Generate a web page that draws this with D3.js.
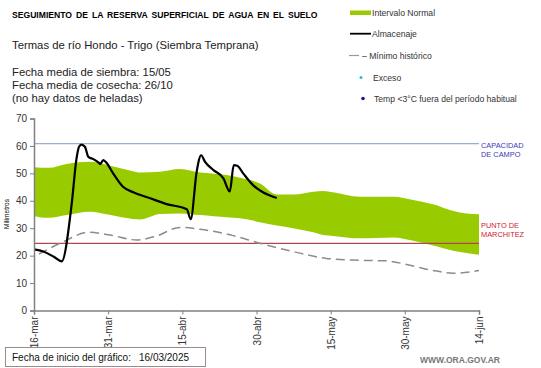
<!DOCTYPE html>
<html>
<head>
<meta charset="UTF-8">
<script src="https://d3js.org/d3.v7.min.js"></script>
<style>
  body { margin: 0; background: #fff; }
  svg text { font-family: "Liberation Sans", Arial, sans-serif; }
  .axis path, .axis line { stroke: #808080; }
  .axis text { font-size: 10px; fill: #333; }
</style>
</head>
<body>
<div id="chart"></div>
<script>
// days counted from the start date (16-mar)
var tickDays = [0, 15, 30, 45, 60, 75, 90];
var tickLabels = ["16-mar", "31-mar", "15-abr", "30-abr", "15-may", "30-may", "14-jun"];
var yTicks = [0, 10, 20, 30, 40, 50, 60, 70];

// Intervalo normal (upper / lower limits)
var bandDays  = [0, 3, 6.6, 11.3, 15, 20, 21.4, 25.5, 29.5, 33.6, 36.3, 39, 41.7, 45.7, 49.1, 52.4, 56.5, 58.5, 60.5, 65.9, 72.7, 76.7, 80.7, 84.8, 87.5, 90];
var bandHigh  = [52.2, 52, 53.4, 54.2, 53, 50.8, 50.3, 50.6, 51.6, 50.3, 49.9, 49.4, 48.4, 46.3, 42.3, 42.3, 43.3, 43.6, 43.1, 41.5, 41.5, 40.3, 38.7, 36.3, 35.4, 35.1];
var bandLow   = [34.4, 33.8, 34.8, 36, 35, 33.4, 33.2, 35.2, 35.4, 34.8, 34.4, 34, 33.6, 32.2, 31, 30, 28.5, 27.5, 27.2, 26.3, 26.6, 25.4, 23.7, 21.8, 21, 20.3];

// Minimo historico
var minDays = [1, 6, 11, 15.4, 20.8, 24.8, 29.5, 33.6, 40.3, 45.7, 52.4, 59.1, 65.9, 71.2, 76.7, 80.7, 84.8, 90];
var minVals = [20.6, 25.1, 28.5, 27.5, 25.7, 27.2, 30.3, 29.6, 27.3, 24.5, 21.5, 19, 18.3, 18.1, 16.2, 14.6, 13.6, 14.6];

// Almacenaje
var almDays = [0, 1.9, 4, 5.6, 7.6, 8.6, 9.1, 9.6, 10.3, 11, 12, 13, 13.4, 14, 14.5, 16, 18, 20.1, 23.5, 26.8, 30.9, 31.7, 32.9, 33.8, 34.6, 36.3, 38.3, 39.6, 40.4, 41.1, 42.3, 44.3, 46.3, 49.1];
var almVals = [22.3, 21.5, 19.6, 17.9, 38.5, 55.4, 59.7, 60.5, 59.7, 56, 55.2, 54, 53.4, 54.8, 54.2, 50, 45.1, 43.1, 40.9, 38.8, 36.9, 33.3, 50.6, 56.6, 54.2, 51.2, 48.2, 43.4, 53, 52.8, 50, 45.7, 43.1, 41];

var capacidad = 60.8;
var marchitez = 24.5;

var W = 541, H = 368;
var x0 = 34, x1 = 479, yBot = 310.5, yTop = 118.5;

var svg = d3.select("#chart").append("svg")
    .attr("width", W)
    .attr("height", H);

var x = d3.scaleLinear().domain([0, 90]).range([x0, x1]);
var y = d3.scaleLinear().domain([0, 70]).range([yBot, yTop]);

// band
var band = bandDays.map(function(d, i) { return {d: d, hi: bandHigh[i], lo: bandLow[i]}; });
svg.append("path")
    .attr("d", d3.area()
        .x(function(d) { return x(d.d); })
        .y0(function(d) { return y(d.lo); })
        .y1(function(d) { return y(d.hi); })
        .curve(d3.curveMonotoneX)(band))
    .attr("fill", "#99cc00");

// reference lines
svg.append("line")
    .attr("x1", x0).attr("x2", x1)
    .attr("y1", y(capacidad)).attr("y2", y(capacidad))
    .attr("stroke", "#8096c4").attr("stroke-width", 1);
svg.append("line")
    .attr("x1", x0).attr("x2", x1)
    .attr("y1", y(marchitez)).attr("y2", y(marchitez))
    .attr("stroke", "#b0474a").attr("stroke-width", 1.2);

// minimo historico
var minData = minDays.map(function(d, i) { return {d: d, v: minVals[i]}; });
svg.append("path")
    .attr("d", d3.line()
        .x(function(d) { return x(d.d); })
        .y(function(d) { return y(d.v); })
        .curve(d3.curveMonotoneX)(minData))
    .attr("fill", "none")
    .attr("stroke", "#8c8c8c")
    .attr("stroke-width", 1.5)
    .attr("stroke-dasharray", "9,5");

// almacenaje
var almData = almDays.map(function(d, i) { return {d: d, v: almVals[i]}; });
svg.append("path")
    .attr("d", d3.line()
        .x(function(d) { return x(d.d); })
        .y(function(d) { return y(d.v); })
        .curve(d3.curveMonotoneX)(almData))
    .attr("fill", "none")
    .attr("stroke", "#000")
    .attr("stroke-width", 2.2)
    .attr("stroke-linejoin", "round");

// axes
var yAxis = svg.append("g")
    .attr("class", "axis")
    .attr("transform", "translate(" + x0 + ",0)")
    .call(d3.axisLeft(y).tickValues(yTicks).tickSize(4).tickPadding(3));
yAxis.select(".domain").attr("stroke-width", 1.5);

var xAxis = svg.append("g")
    .attr("class", "axis")
    .attr("transform", "translate(0," + yBot + ")")
    .call(d3.axisBottom(x).tickValues(tickDays).tickSize(4)
        .tickFormat(function(d, i) { return tickLabels[i]; }));
xAxis.select(".domain").attr("stroke-width", 1.5);
xAxis.selectAll("text")
    .attr("transform", "rotate(-90)")
    .attr("text-anchor", "end")
    .attr("x", -6)
    .attr("y", 0)
    .attr("dy", "0.35em");

svg.append("text")
    .attr("transform", "translate(9,214) rotate(-90)")
    .attr("text-anchor", "middle")
    .attr("font-size", 6.5)
    .text("Milímetros");

// reference labels
var refLabels = [
  {t: "CAPACIDAD", y: 148, c: "#3b3bb5"},
  {t: "DE  CAMPO", y: 157, c: "#3b3bb5"},
  {t: "PUNTO  DE", y: 228, c: "#cc2233"},
  {t: "MARCHITEZ", y: 236.5, c: "#cc2233"}
];
svg.selectAll(".ref").data(refLabels).enter().append("text")
    .attr("x", 481).attr("y", function(d) { return d.y; })
    .attr("font-size", 7.4).attr("fill", function(d) { return d.c; })
    .text(function(d) { return d.t; });

// titles
svg.append("text").attr("x", 12).attr("y", 18).attr("font-size", 8.6).attr("font-weight", "bold")
    .attr("word-spacing", 1.6)
    .text("SEGUIMIENTO DE LA RESERVA SUPERFICIAL DE AGUA EN EL SUELO");
svg.append("text").attr("x", 12).attr("y", 49).attr("font-size", 11.3).attr("fill", "#222")
    .text("Termas de río Hondo - Trigo (Siembra Temprana)");
var info = ["Fecha media de siembra: 15/05", "Fecha media de cosecha: 26/10", "(no hay  datos de heladas)"];
svg.selectAll(".info").data(info).enter().append("text")
    .attr("x", 12)
    .attr("y", function(d, i) { return 76 + i * 13; })
    .attr("font-size", 11.3).attr("fill", "#222")
    .text(function(d) { return d; });

// legend
var lg = svg.append("g").attr("font-size", 8.6).attr("fill", "#333");
lg.append("rect").attr("x", 350).attr("y", 10.5).attr("width", 21).attr("height", 4.5).attr("fill", "#99cc00");
lg.append("text").attr("x", 372).attr("y", 15.8).text("Intervalo Normal");
lg.append("line").attr("x1", 350).attr("x2", 371).attr("y1", 33.7).attr("y2", 33.7).attr("stroke", "#000").attr("stroke-width", 1.8);
lg.append("text").attr("x", 372).attr("y", 37).text("Almacenaje");
lg.append("line").attr("x1", 349).attr("x2", 359).attr("y1", 55.5).attr("y2", 55.5).attr("stroke", "#999").attr("stroke-width", 1.2);
lg.append("text").attr("x", 362).attr("y", 58.8).text("– Mínimo histórico");
lg.append("circle").attr("cx", 361).attr("cy", 77.5).attr("r", 1.5).attr("fill", "#33bbcc");
lg.append("text").attr("x", 373).attr("y", 80.5).text("Exceso");
lg.append("circle").attr("cx", 363).attr("cy", 98.5).attr("r", 1.8).attr("fill", "#1a1a8c");
lg.append("text").attr("x", 374).attr("y", 101.8).text("Temp <3°C fuera del período habitual");

// footer
svg.append("rect").attr("x", 5.5).attr("y", 347.5).attr("width", 200).attr("height", 19)
    .attr("fill", "#fff").attr("stroke", "#9a8a8a");
svg.append("text").attr("x", 12).attr("y", 361).attr("font-size", 10).attr("fill", "#111")
    .text("Fecha de inicio del gráfico:");
svg.append("text").attr("x", 139).attr("y", 361).attr("font-size", 10).attr("fill", "#111")
    .text("16/03/2025");
svg.append("text").attr("x", 500).attr("y", 363).attr("text-anchor", "end")
    .attr("font-size", 8.5).attr("font-weight", "bold").attr("fill", "#777")
    .text("WWW.ORA.GOV.AR");
</script>
</body>
</html>
